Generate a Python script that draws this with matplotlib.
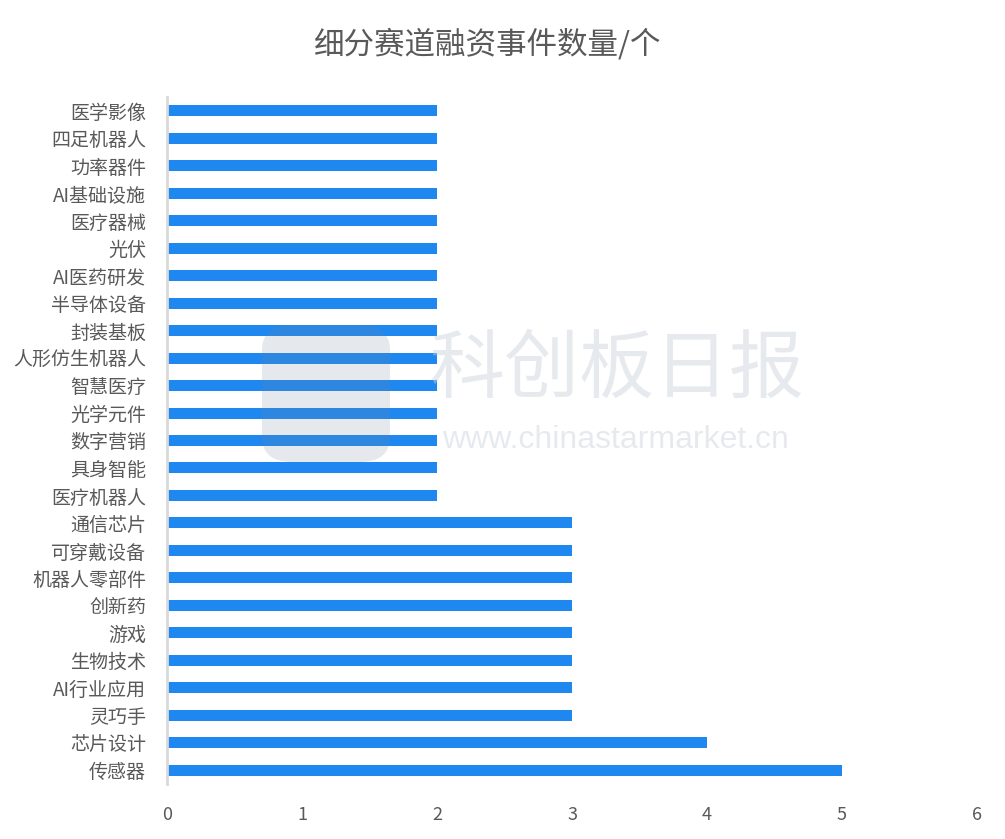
"""
细分赛道融资事件数量 横向柱状图
"""

import matplotlib
matplotlib.use('Agg')
import matplotlib.pyplot as plt
from matplotlib.patches import FancyBboxPatch

plt.rcParams['font.family'] = ['Noto Sans CJK SC', 'DejaVu Sans']

# ── 数据 ──────────────────────────────────────────────
CATEGORIES = ['医学影像', '四足机器人', '功率器件', 'AI基础设施', '医疗器械', '光伏',
              'AI医药研发', '半导体设备', '封装基板', '人形仿生机器人', '智慧医疗',
              '光学元件', '数字营销', '具身智能', '医疗机器人', '通信芯片',
              '可穿戴设备', '机器人零部件', '创新药', '游戏', '生物技术',
              'AI行业应用', '灵巧手', '芯片设计', '传感器']
COUNTS = [2, 2, 2, 2, 2, 2, 2, 2, 2, 2, 2, 2, 2, 2, 2,
          3, 3, 3, 3, 3, 3, 3, 3, 4, 5]
X_TICKS = [0, 1, 2, 3, 4, 5, 6]
TITLE = '细分赛道融资事件数量/个'

BAR_COLOR = '#1f88f0'
TEXT_COLOR = '#595959'
AXIS_COLOR = '#d9d9d9'

W, H = 1005, 839
fig = plt.figure(figsize=(W / 100, H / 100), dpi=100)
ax = fig.add_axes([167 / W, 1 - 784 / H, (977 - 167) / W, (784 - 97) / H])

n = len(CATEGORIES)
ypos = list(range(n))
ax.barh(ypos, COUNTS, height=0.4, color=BAR_COLOR, zorder=2)

ax.set_ylim(n - 0.5, -0.5)
ax.set_xlim(0, 6)
ax.set_yticks(ypos)
ax.set_yticklabels(CATEGORIES, fontsize=13.7, color=TEXT_COLOR)
ax.set_xticks(X_TICKS)
ax.set_xticklabels([str(t) for t in X_TICKS], fontsize=13, color=TEXT_COLOR)
ax.tick_params(axis='both', length=0)
ax.tick_params(axis='y', pad=15)
ax.tick_params(axis='x', pad=16)

for side in ['top', 'right', 'bottom']:
    ax.spines[side].set_visible(False)
ax.spines['left'].set_color(AXIS_COLOR)
ax.spines['left'].set_linewidth(2)

fig.text(488 / W, 1 - 45 / H, TITLE, ha='center', va='center',
         fontsize=22, color=TEXT_COLOR)

# ── 水印 ──────────────────────────────────────────────
logo = FancyBboxPatch((262 / W, 1 - 462 / H), 128 / W, 137 / H,
                      boxstyle='round,pad=0,rounding_size=0.03',
                      transform=fig.transFigure, facecolor='#6f8296',
                      edgecolor='none', alpha=0.18, zorder=5)
fig.patches.append(logo)
fig.text(617 / W, 1 - 370 / H, '科创板日报', ha='center', va='center',
         fontsize=54, color='#c9d0d9', alpha=0.45, zorder=5)
fig.text(615 / W, 1 - 440 / H, 'www.chinastarmarket.cn', ha='center', va='center',
         fontsize=23, color='#c9d0d9', alpha=0.45, zorder=5,
         family=['Liberation Sans', 'DejaVu Sans'])

plt.savefig('out.png', dpi=100)
